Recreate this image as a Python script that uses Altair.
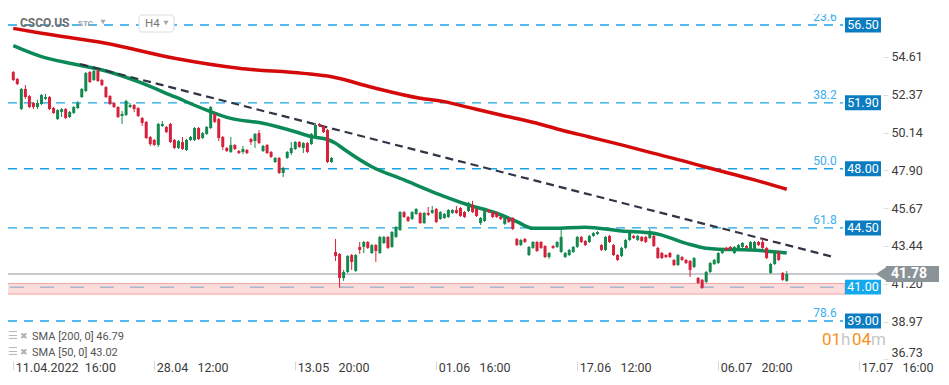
import json
import pandas as pd
import altair as alt

# ---------------- data ----------------
opens = [53.72, 53.31, 51.53, 52.72, 52.30, 51.89, 51.65, 51.83, 52.13, 52.24,
         51.59, 50.94, 51.36, 51.53, 51.06, 51.30, 51.59, 52.24, 52.60, 53.72,
         53.25, 53.78, 53.25, 52.83, 52.30, 51.89, 51.65, 51.12, 51.18, 51.65,
         51.77, 51.59, 51.00, 50.77, 49.88, 49.70, 49.41, 50.53, 50.47, 50.65,
         49.70, 49.23, 49.58, 49.11, 49.70, 49.70, 50.41, 49.82, 50.06, 50.41,
         51.24, 50.94, 49.88, 49.23, 48.99, 49.41, 49.05, 48.99, 49.11, 49.76,
         49.64, 50.11, 49.05, 49.41, 48.99, 48.40, 48.64, 47.75, 48.64, 48.93,
         49.17, 49.58, 49.23, 49.52, 49.46, 49.94, 50.65, 50.53, 50.29, 48.40,
         43.08, 42.96, 41.54, 41.90, 42.90, 41.96, 43.38, 43.38, 43.67, 43.02,
         43.49, 43.02, 43.61, 43.97, 43.38, 43.97, 44.38, 45.44, 45.15, 45.03,
         45.33, 45.39, 44.79, 45.39, 45.39, 45.62, 45.03, 45.09, 45.15, 45.39,
         45.56, 45.68, 45.44, 45.50, 45.86, 45.62, 44.79, 44.91, 45.56, 45.44,
         45.39, 45.15, 44.74, 45.09, 45.09, 43.85, 43.49, 43.85, 42.90, 43.32,
         43.67, 43.67, 43.43, 42.78, 43.43, 43.38, 43.08, 42.78, 42.90, 43.08,
         43.38, 43.97, 43.73, 43.67, 44.03, 44.14, 43.49, 43.20, 44.03, 43.49,
         42.90, 42.84, 43.32, 43.79, 44.03, 43.79, 43.97, 43.97, 43.91, 44.03,
         43.32, 43.02, 42.90, 43.02, 42.61, 42.31, 42.78, 42.61, 42.55, 42.19,
         41.54, 41.43, 41.31, 41.90, 42.37, 42.43, 43.02, 43.32, 43.38, 43.02,
         43.20, 43.38, 43.43, 43.26, 43.26, 43.67, 43.67, 43.32, 41.84, 42.37,
         43.08, 41.84, 41.37]
highs = [53.78, 53.37, 52.78, 52.95, 52.36, 51.95, 52.07, 52.42, 52.42, 52.30,
         51.65, 51.53, 51.59, 51.59, 51.42, 51.71, 52.01, 52.78, 53.72, 53.78,
         53.84, 53.90, 53.31, 52.89, 52.36, 51.95, 51.71, 51.42, 52.07, 51.89,
         51.83, 51.65, 51.06, 50.82, 49.94, 49.76, 50.71, 50.82, 50.53, 50.71,
         49.76, 49.70, 49.88, 49.76, 49.94, 50.47, 50.47, 50.17, 50.53, 51.71,
         51.30, 51.00, 49.94, 49.29, 49.88, 49.46, 49.11, 49.35, 49.17, 49.82,
         50.11, 50.29, 49.41, 49.46, 49.05, 48.70, 48.70, 48.11, 49.05, 49.58,
         49.64, 49.64, 49.58, 49.58, 50.11, 50.71, 50.71, 50.59, 50.35, 48.70,
         43.85, 43.02, 42.02, 42.90, 42.96, 42.96, 43.67, 43.73, 43.73, 43.55,
         43.55, 44.03, 44.03, 44.03, 44.32, 44.62, 45.50, 45.50, 45.21, 45.50,
         45.68, 45.44, 45.44, 45.74, 45.80, 45.68, 45.50, 45.39, 45.62, 45.62,
         45.80, 45.74, 45.50, 46.04, 46.10, 45.68, 45.15, 45.68, 45.62, 45.50,
         45.44, 45.21, 45.15, 45.15, 45.15, 43.91, 43.85, 43.91, 43.43, 43.73,
         43.73, 43.73, 43.49, 43.08, 43.49, 43.73, 44.50, 43.08, 43.26, 43.43,
         44.03, 44.03, 43.79, 44.09, 44.26, 44.32, 43.55, 44.03, 44.09, 43.55,
         42.96, 43.38, 43.85, 44.32, 44.09, 44.09, 44.03, 44.03, 44.44, 44.09,
         43.38, 43.08, 42.96, 43.08, 42.67, 42.96, 42.84, 42.67, 42.61, 42.78,
         41.60, 41.49, 41.96, 42.49, 42.67, 43.08, 43.26, 43.38, 43.43, 43.43,
         43.55, 43.67, 43.49, 43.73, 43.73, 43.73, 43.91, 43.38, 42.43, 43.14,
         43.14, 41.90, 41.96]
lows = [53.19, 52.95, 51.47, 52.13, 51.59, 51.53, 51.53, 51.77, 52.07, 51.47,
        51.24, 50.88, 51.06, 50.94, 51.00, 51.24, 51.53, 52.18, 52.54, 53.07,
        53.19, 53.13, 52.89, 52.18, 51.77, 51.59, 51.00, 50.65, 51.12, 51.59,
        51.36, 51.06, 50.53, 49.76, 49.35, 49.35, 49.29, 50.47, 50.11, 49.52,
        49.17, 49.17, 49.11, 49.05, 49.64, 49.64, 49.70, 49.76, 50.00, 50.35,
        50.71, 49.64, 49.11, 48.99, 48.93, 49.11, 48.87, 48.87, 48.87, 49.41,
        49.23, 49.46, 48.99, 48.87, 48.64, 48.34, 47.69, 47.51, 48.58, 48.81,
        49.11, 49.23, 48.93, 48.93, 49.41, 49.88, 50.47, 50.11, 48.34, 48.34,
        42.55, 40.96, 41.37, 41.84, 42.02, 41.90, 42.96, 43.02, 43.26, 42.96,
        42.49, 42.96, 43.55, 43.26, 43.32, 43.91, 44.32, 45.09, 44.85, 44.97,
        45.27, 44.74, 44.74, 45.21, 45.33, 44.79, 44.97, 45.03, 45.09, 45.33,
        45.33, 45.15, 45.09, 45.44, 45.39, 45.15, 44.68, 44.85, 45.39, 45.09,
        45.09, 44.97, 44.68, 44.79, 44.38, 43.43, 43.43, 43.61, 42.84, 43.26,
        43.08, 43.26, 42.72, 42.67, 43.26, 43.32, 43.02, 42.72, 42.84, 43.02,
        43.32, 43.61, 43.43, 43.61, 43.97, 44.09, 43.14, 43.14, 43.61, 42.84,
        42.55, 42.78, 43.26, 43.73, 43.85, 43.73, 43.67, 43.61, 43.85, 43.38,
        42.67, 42.67, 42.72, 42.72, 42.25, 42.25, 42.55, 42.37, 41.60, 42.13,
        41.19, 40.90, 41.25, 41.84, 42.31, 42.37, 42.96, 43.14, 43.20, 42.96,
        43.14, 43.32, 43.26, 43.20, 43.20, 43.43, 43.26, 42.67, 41.78, 42.31,
        42.55, 41.37, 41.31]
closes = [53.25, 53.01, 52.72, 52.24, 51.65, 51.65, 51.89, 52.36, 52.24, 51.53,
          51.30, 51.47, 51.53, 51.00, 51.36, 51.65, 51.89, 52.72, 53.66, 53.13,
          53.78, 53.19, 52.95, 52.24, 51.83, 51.65, 51.06, 51.24, 52.01, 51.77,
          51.53, 51.12, 50.71, 49.82, 49.46, 49.41, 50.65, 50.65, 50.17, 49.58,
          49.23, 49.64, 49.17, 49.70, 49.88, 50.41, 49.76, 50.11, 50.47, 51.65,
          50.77, 49.82, 49.29, 49.05, 49.41, 49.17, 48.93, 49.17, 48.93, 49.58,
          50.06, 49.52, 49.35, 48.93, 48.70, 48.64, 47.75, 48.05, 48.99, 49.23,
          49.58, 49.29, 49.52, 48.99, 50.06, 50.59, 50.53, 50.17, 48.40, 48.64,
          42.84, 41.54, 41.90, 42.84, 42.49, 42.90, 43.20, 43.67, 43.32, 43.49,
          43.14, 43.97, 43.97, 43.32, 44.26, 44.56, 45.44, 45.15, 44.91, 45.44,
          45.62, 44.79, 45.39, 45.27, 45.56, 44.85, 45.44, 45.33, 45.56, 45.56,
          45.39, 45.21, 45.15, 45.98, 45.44, 45.21, 45.09, 45.62, 45.44, 45.15,
          45.15, 45.03, 45.09, 44.85, 44.44, 43.49, 43.79, 43.67, 43.38, 43.67,
          43.14, 43.32, 42.78, 43.02, 43.32, 43.67, 43.97, 43.02, 43.20, 43.38,
          43.97, 43.67, 43.49, 44.03, 44.20, 44.26, 43.20, 43.97, 43.67, 42.90,
          42.61, 43.32, 43.79, 44.26, 43.91, 44.03, 43.73, 43.67, 44.14, 43.43,
          42.72, 42.72, 42.78, 42.78, 42.31, 42.90, 42.61, 42.43, 42.02, 42.72,
          41.25, 40.96, 41.90, 42.43, 42.61, 43.02, 43.20, 43.20, 43.26, 43.38,
          43.49, 43.61, 43.32, 43.67, 43.67, 43.49, 43.32, 42.72, 42.37, 43.08,
          42.61, 41.43, 41.78]

sma200_idx = [0, 7, 23, 40, 56, 72, 79, 89, 101, 107, 113, 121, 130, 136, 143,
              151, 159, 167, 172, 181, 184, 192]
sma200_val = [56.30, 56.01, 55.42, 54.53, 53.94, 53.64, 53.44, 52.82, 52.17, 51.97,
              51.63, 51.18, 50.69, 50.29, 49.88, 49.41, 48.91, 48.42, 48.09, 47.53,
              47.34, 46.79]
sma50_idx = [0, 7, 15, 23, 31, 40, 48, 54, 62, 70, 74, 78, 80, 82, 89, 97, 105,
             113, 120, 125, 129, 134, 142, 151, 159, 167, 172, 175, 183, 192]
sma50_val = [55.28, 54.63, 54.19, 53.78, 53.15, 52.26, 51.47, 50.98, 50.69, 50.19,
             49.90, 49.73, 49.51, 49.17, 48.12, 47.34, 46.55, 45.86, 45.37, 44.87,
             44.48, 44.48, 44.54, 44.32, 44.19, 43.59, 43.30, 43.24, 43.20, 43.02]

trend_idx = [16.6, 204.0]
trend_val = [54.19, 42.76]

level_values = [56.50, 51.90, 48.00, 44.50, 39.00]
level_texts = ["56.50", "51.90", "48.00", "44.50", "39.00"]
fib_labels = ["23.6", "38.2", "50.0", "61.8", "78.6"]

zone_top, zone_bottom, zone_level = 41.22, 40.59, 41.00
last_price = 41.78
sma200_last, sma50_last = 46.79, 43.02

x_tick_idx = [0, 35, 70, 105, 140, 175, 210]
x_tick_labels = ["11.04.2022\u00a0\u00a016:00", "28.04\u00a0\u00a0\u00a012:00",
                 "13.05\u00a0\u00a0\u00a020:00", "01.06\u00a0\u00a0\u00a016:00",
                 "17.06\u00a0\u00a0\u00a012:00", "06.07\u00a0\u00a0\u00a020:00",
                 "17.07\u00a0\u00a0\u00a016:00"]
y_tick_values = [54.61, 52.37, 50.14, 47.90, 45.67, 43.44, 41.20, 38.97, 36.73]

# ---------------- styling ----------------
FONT = "Roboto"
GREEN, RED = "#13894f", "#d7203a"
W, H = 875, 353

xs = alt.Scale(domain=[-0.07, 214.65], nice=False, zero=False)
ys = alt.Scale(domain=[36.635, 57.505], nice=False, zero=False)

label_expr = json.dumps(x_tick_labels) + "[round(datum.value / 35)]"
x_axis = alt.Axis(orient="bottom", values=x_tick_idx, labelExpr=label_expr, title=None,
                  domain=False, grid=False, tickSize=9, tickColor="#d8d8d8",
                  labelAlign="left", labelBaseline="middle", labelPadding=-3,
                  labelOffset=2, labelFont=FONT, labelFontSize=12.5,
                  labelColor="#3b3b3b", labelOverlap=False)
y_axis = alt.Axis(orient="right", values=y_tick_values, format=".2f", title=None,
                  domain=False, grid=False, tickSize=5, tickColor="#dedede",
                  labelPadding=3, labelFont=FONT, labelFontSize=12.5,
                  labelColor="#3b3b3b", labelFlush=6)

candles = pd.DataFrame({"idx": list(range(len(opens))), "open": opens, "high": highs,
                        "low": lows, "close": closes})
candles["dir"] = ["up" if c >= o else "down" for o, c in zip(opens, closes)]
col = alt.Color("dir:N", scale=alt.Scale(domain=["up", "down"], range=[GREEN, RED]),
                legend=None)

one = pd.DataFrame({"k": [0]})
levels = pd.DataFrame({"p": level_values, "txt": level_texts, "lab": fib_labels})


def yq(field):
    return alt.Y(field, scale=ys, axis=y_axis)


def xq(field):
    return alt.X(field, scale=xs, axis=x_axis)


zone = alt.Chart(pd.DataFrame({"top": [zone_top], "bot": [zone_bottom]})).mark_rect(
    fill="#fddcdc", stroke="#f2a3a3", strokeWidth=1).encode(
    x=alt.value(-3), x2=alt.value(837), y=yq("top:Q"), y2="bot:Q")
zone_line = alt.Chart(pd.DataFrame({"p": [zone_level]})).mark_rule(
    color="#a9b8cd", strokeWidth=1.5, strokeDash=[14, 16]).encode(
    x=alt.value(2), x2=alt.value(835), y=yq("p:Q"))
level_lines = alt.Chart(levels).mark_rule(
    color="#1aa4e6", strokeWidth=1.3, strokeDash=[9, 7]).encode(
    x=alt.value(0), x2=alt.value(835), y=yq("p:Q"))
price_line = alt.Chart(pd.DataFrame({"p": [last_price]})).mark_rule(
    color="#8d969b", strokeWidth=1.2).encode(x=alt.value(0), x2=alt.value(870), y=yq("p:Q"))

sma200 = alt.Chart(pd.DataFrame({"idx": sma200_idx, "v": sma200_val})).mark_line(
    color="#d40a0a", strokeWidth=3.5, interpolate="monotone").encode(
    x=xq("idx:Q"), y=yq("v:Q"))
sma50 = alt.Chart(pd.DataFrame({"idx": sma50_idx, "v": sma50_val})).mark_line(
    color="#0b8a58", strokeWidth=3.5, interpolate="monotone").encode(
    x=xq("idx:Q"), y=yq("v:Q"))
trend = alt.Chart(pd.DataFrame({"idx": trend_idx, "v": trend_val})).mark_line(
    color="#2f3542", strokeWidth=2.2, strokeDash=[8, 5]).encode(
    x=xq("idx:Q"), y=yq("v:Q"))

wicks = alt.Chart(candles).mark_rule(strokeWidth=1).encode(
    x=xq("idx:Q"), y=yq("low:Q"), y2="high:Q", color=col)
bodies = alt.Chart(candles).mark_bar(size=3).encode(
    x=xq("idx:Q"), y=yq("open:Q"), y2="close:Q", color=col)

fib_text = alt.Chart(levels).mark_text(
    color="#3aaef0", fontSize=12, font=FONT, dy=-8).encode(
    x=alt.value(817), y=yq("p:Q"), text="lab:N")
cover = alt.Chart(one).mark_rect(color="white").encode(
    x=alt.value(798), x2=alt.value(836), y=alt.value(-1), y2=alt.value(6))

boxes = alt.Chart(levels).transform_calculate(
    top="datum.p + 0.44", bot="datum.p - 0.44").mark_rect(color="#0a7cc2").encode(
    x=alt.value(837), x2=alt.value(873), y=yq("top:Q"), y2="bot:Q")
box_text = alt.Chart(levels).mark_text(color="white", fontSize=12.5, font=FONT).encode(
    x=alt.value(855), y=yq("p:Q"), text="txt:N")

zdf = pd.DataFrame({"p": [zone_level], "txt": ["%.2f" % zone_level]})
zbox = alt.Chart(zdf).transform_calculate(
    top="datum.p + 0.44", bot="datum.p - 0.44").mark_rect(color="#14a8ec").encode(
    x=alt.value(837), x2=alt.value(873), y=yq("top:Q"), y2="bot:Q")
zbox_text = alt.Chart(zdf).mark_text(color="white", fontSize=12.5, font=FONT).encode(
    x=alt.value(855), y=yq("p:Q"), text="txt:N")

ldf = pd.DataFrame({"p": [last_price], "txt": ["%.2f" % last_price]})
lbox = alt.Chart(ldf).transform_calculate(
    top="datum.p + 0.475", bot="datum.p - 0.475").mark_rect(color="#8a9397").encode(
    x=alt.value(878), x2=alt.value(931), y=yq("top:Q"), y2="bot:Q")
larrow = alt.Chart(ldf).mark_point(
    shape="M 0.25 -1 L -1.25 0 L 0.25 1 Z", filled=True, size=256, color="#8a9397",
    opacity=1).encode(x=alt.value(878), y=yq("p:Q"))
ltext = alt.Chart(ldf).mark_text(color="white", fontSize=14, fontWeight="bold",
                                 font=FONT).encode(
    x=alt.value(901), y=yq("p:Q"), text="txt:N")


def label(txt, x, y, **kw):
    return alt.Chart(one).mark_text(align="left", baseline="middle", font=FONT,
                                    text=txt, **kw).encode(x=alt.value(x), y=alt.value(y))


h4_box = alt.Chart(one).mark_rect(fill="white", stroke="#dcdcdc", cornerRadius=3).encode(
    x=alt.value(131), x2=alt.value(166), y=alt.value(7), y2=alt.value(24))
tri1 = alt.Chart(one).mark_point(shape="triangle-down", filled=True, size=28,
                                 color="#a8a8a8", opacity=1).encode(
    x=alt.value(95), y=alt.value(14))
tri2 = alt.Chart(one).mark_point(shape="triangle-down", filled=True, size=28,
                                 color="#a8a8a8", opacity=1).encode(
    x=alt.value(158), y=alt.value(15))

texts = [
    label("CSCO.US", 12, 15, fontSize=12, fontWeight="bold", color="#6e6e6e"),
    label("STC", 70, 16, fontSize=8, fontWeight="bold", color="#9aa0a6"),
    label("H4", 137, 16, fontSize=11.5, color="#777777"),
    label("\u2630", 0, 328, fontSize=11, color="#b8b8b8"),
    label("\u2716", 12, 328, fontSize=9, color="#b0b0b0"),
    label("SMA [200, 0] %.2f" % sma200_last, 24, 329, fontSize=11, color="#555555"),
    label("\u2630", 0, 344, fontSize=11, color="#b8b8b8"),
    label("\u2716", 12, 344, fontSize=9, color="#b0b0b0"),
    label("SMA [50, 0] %.2f" % sma50_last, 24, 345, fontSize=11, color="#555555"),
    label("01", 814, 332, fontSize=17, color="#f7931a"),
    label("h", 833, 332, fontSize=17, color="#c7c7c7"),
    label("04", 844, 332, fontSize=17, color="#f7931a"),
    label("m", 863, 332, fontSize=17, color="#c7c7c7"),
]

chart = alt.layer(
    zone, zone_line, level_lines, price_line, sma200, sma50, trend, wicks, bodies,
    fib_text, cover, boxes, box_text, zbox, zbox_text, lbox, larrow, ltext,
    h4_box, tri1, tri2, *texts
).properties(
    width=W, height=H,
    autosize=alt.AutoSizeParams(type="none"),
    padding={"left": 0, "top": 0, "right": 58, "bottom": 24},
).configure_view(stroke=None)

chart.save("out.html", embed_options={"renderer": "svg", "actions": False})
